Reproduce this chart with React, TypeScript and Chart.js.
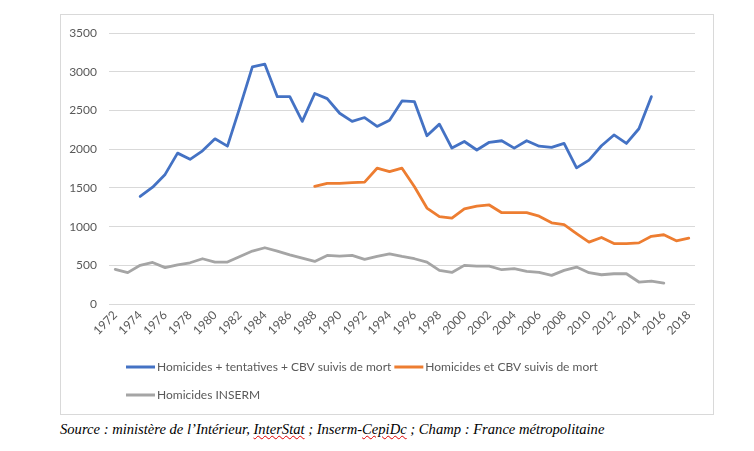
import React, { useEffect, useRef } from 'react';
import { Chart, registerables } from 'chart.js';

Chart.register(...registerables);

const years: string[] = [
  '1972', '1973', '1974', '1975', '1976', '1977', '1978', '1979', '1980', '1981',
  '1982', '1983', '1984', '1985', '1986', '1987', '1988', '1989', '1990', '1991',
  '1992', '1993', '1994', '1995', '1996', '1997', '1998', '1999', '2000', '2001',
  '2002', '2003', '2004', '2005', '2006', '2007', '2008', '2009', '2010', '2011',
  '2012', '2013', '2014', '2015', '2016', '2017', '2018',
];

const seriesNames: string[] = [
  'Homicides + tentatives + CBV suivis de mort',
  'Homicides et CBV suivis de mort',
  'Homicides INSERM',
];

// Homicides + tentatives + CBV suivis de mort, 1974–2015
const blueStart = '1974';
const blueValues: number[] = [
  1390, 1510, 1675, 1950, 1870, 1980, 2135, 2040, 2545, 3065,
  3100, 2680, 2680, 2360, 2720, 2655, 2465, 2360, 2410, 2295,
  2375, 2625, 2615, 2175, 2325, 2015, 2100, 1990, 2090, 2110,
  2015, 2110, 2040, 2025, 2075, 1760, 1860, 2045, 2185, 2075,
  2265, 2680,
];

// Homicides et CBV suivis de mort, 1988–2018
const orangeStart = '1988';
const orangeValues: number[] = [
  1520, 1560, 1560, 1570, 1575, 1755, 1710, 1755, 1515, 1240,
  1130, 1110, 1230, 1265, 1280, 1180, 1180, 1180, 1135, 1050,
  1025, 910, 800, 860, 782, 780, 790, 875, 895, 817,
  850,
];

// Homicides INSERM, 1972–2016
const grayStart = '1972';
const grayValues: number[] = [
  447, 405, 500, 537, 470, 507, 533, 585, 542, 542,
  615, 684, 727, 684, 636, 593, 550, 628, 619, 628,
  576, 615, 649, 615, 585, 542, 434, 408, 499, 490,
  490, 443, 456, 421, 408, 370, 434, 477, 404, 378,
  391, 391, 284, 297, 271,
];

const yTicks: number[] = [0, 500, 1000, 1500, 2000, 2500, 3000, 3500];

const seriesColors: string[] = ['#4472C4', '#ED7D31', '#A5A5A5'];

function alignToYears(start: string, values: number[]): (number | null)[] {
  const offset = years.indexOf(start);
  return years.map((_, i) => {
    const k = i - offset;
    return k >= 0 && k < values.length ? values[k] : null;
  });
}

const legendPlugin = {
  id: 'excelLegend',
  afterDraw(chart: any) {
    const ctx: CanvasRenderingContext2D = chart.ctx;
    ctx.save();
    ctx.font = '12px Lato';
    ctx.textBaseline = 'middle';
    ctx.textAlign = 'left';
    const rows = [[0, 1], [2]];
    const rowY = [353, 381];
    rows.forEach((row, r) => {
      let x = 66;
      row.forEach((i) => {
        const ds = chart.data.datasets[i];
        ctx.strokeStyle = ds.borderColor;
        ctx.lineWidth = 3;
        ctx.lineCap = 'butt';
        ctx.beginPath();
        ctx.moveTo(x, rowY[r]);
        ctx.lineTo(x + 29, rowY[r]);
        ctx.stroke();
        ctx.fillStyle = '#595959';
        ctx.fillText(ds.label, x + 31, rowY[r]);
        x += 31 + ctx.measureText(ds.label).width + 3;
      });
    });
    ctx.restore();
  },
};

function LineChart() {
  const ref = useRef<HTMLCanvasElement | null>(null);

  useEffect(() => {
    if (!ref.current) return;
    const mk = (label: string, color: string, data: (number | null)[]) => ({
      label,
      data,
      borderColor: color,
      backgroundColor: color,
      borderWidth: 2.8,
      pointRadius: 0,
      pointHoverRadius: 0,
      tension: 0,
      fill: false,
      spanGaps: false,
      borderJoinStyle: 'round' as const,
      borderCapStyle: 'round' as const,
    });
    const chart = new Chart(ref.current, {
      type: 'line',
      data: {
        labels: years,
        datasets: [
          mk(seriesNames[0], seriesColors[0], alignToYears(blueStart, blueValues)),
          mk(seriesNames[1], seriesColors[1], alignToYears(orangeStart, orangeValues)),
          mk(seriesNames[2], seriesColors[2], alignToYears(grayStart, grayValues)),
        ],
      },
      options: {
        animation: false,
        responsive: true,
        maintainAspectRatio: false,
        devicePixelRatio: 1,
        layout: { padding: { top: 18, right: 19, bottom: 71, left: 0 } },
        plugins: {
          legend: { display: false },
          tooltip: { enabled: false },
          title: { display: false },
        },
        scales: {
          x: {
            type: 'category',
            offset: true,
            grid: { display: false, drawTicks: false },
            border: { display: false },
            afterFit: (s: any) => {
              s.height = 40;
            },
            ticks: {
              autoSkip: false,
              minRotation: 45,
              maxRotation: 45,
              padding: 4,
              color: '#595959',
              font: { family: 'Lato', size: 12 },
              callback: (_v: any, idx: number) => (idx % 2 === 0 ? years[idx] : ''),
            },
          },
          y: {
            min: 0,
            max: 3500,
            afterFit: (s: any) => {
              s.width = 49;
            },
            afterBuildTicks: (s: any) => {
              s.ticks = yTicks.map((v) => ({ value: v }));
            },
            grid: { color: '#D9D9D9', lineWidth: 1, drawTicks: false },
            border: { display: false },
            ticks: {
              padding: 12,
              color: '#595959',
              font: { family: 'Lato', size: 12 },
              callback: (v: any) => String(v),
            },
          },
        },
      },
      plugins: [legendPlugin],
    });
    return () => chart.destroy();
  }, []);

  return (
    <div style={{ position: 'absolute', left: 60, top: 14, width: 654, height: 401 }}>
      <canvas ref={ref} />
    </div>
  );
}

export default function App() {
  return (
    <div style={{ position: 'absolute', left: 0, top: 0, width: 754, height: 451, background: '#fff' }}>
      <div
        style={{
          position: 'absolute',
          left: 60,
          top: 14,
          width: 654,
          height: 401,
          boxSizing: 'border-box',
          border: '1px solid #D9D9D9',
        }}
      />
      <LineChart />
      <div
        style={{
          position: 'absolute',
          left: 60,
          top: 422,
          fontFamily: '"Liberation Serif", "Times New Roman", serif',
          fontStyle: 'italic',
          fontSize: 14.6,
          lineHeight: 1,
          color: '#000',
          whiteSpace: 'nowrap',
        }}
      >
        Source : ministère de l’Intérieur,{' '}
        <span style={{ textDecoration: 'underline wavy #E00000', textDecorationThickness: '1px' }}>InterStat</span>
        {' '}; Inserm-
        <span style={{ textDecoration: 'underline wavy #E00000', textDecorationThickness: '1px' }}>CepiDc</span>
        {' '}; Champ : France métropolitaine
      </div>
    </div>
  );
}
